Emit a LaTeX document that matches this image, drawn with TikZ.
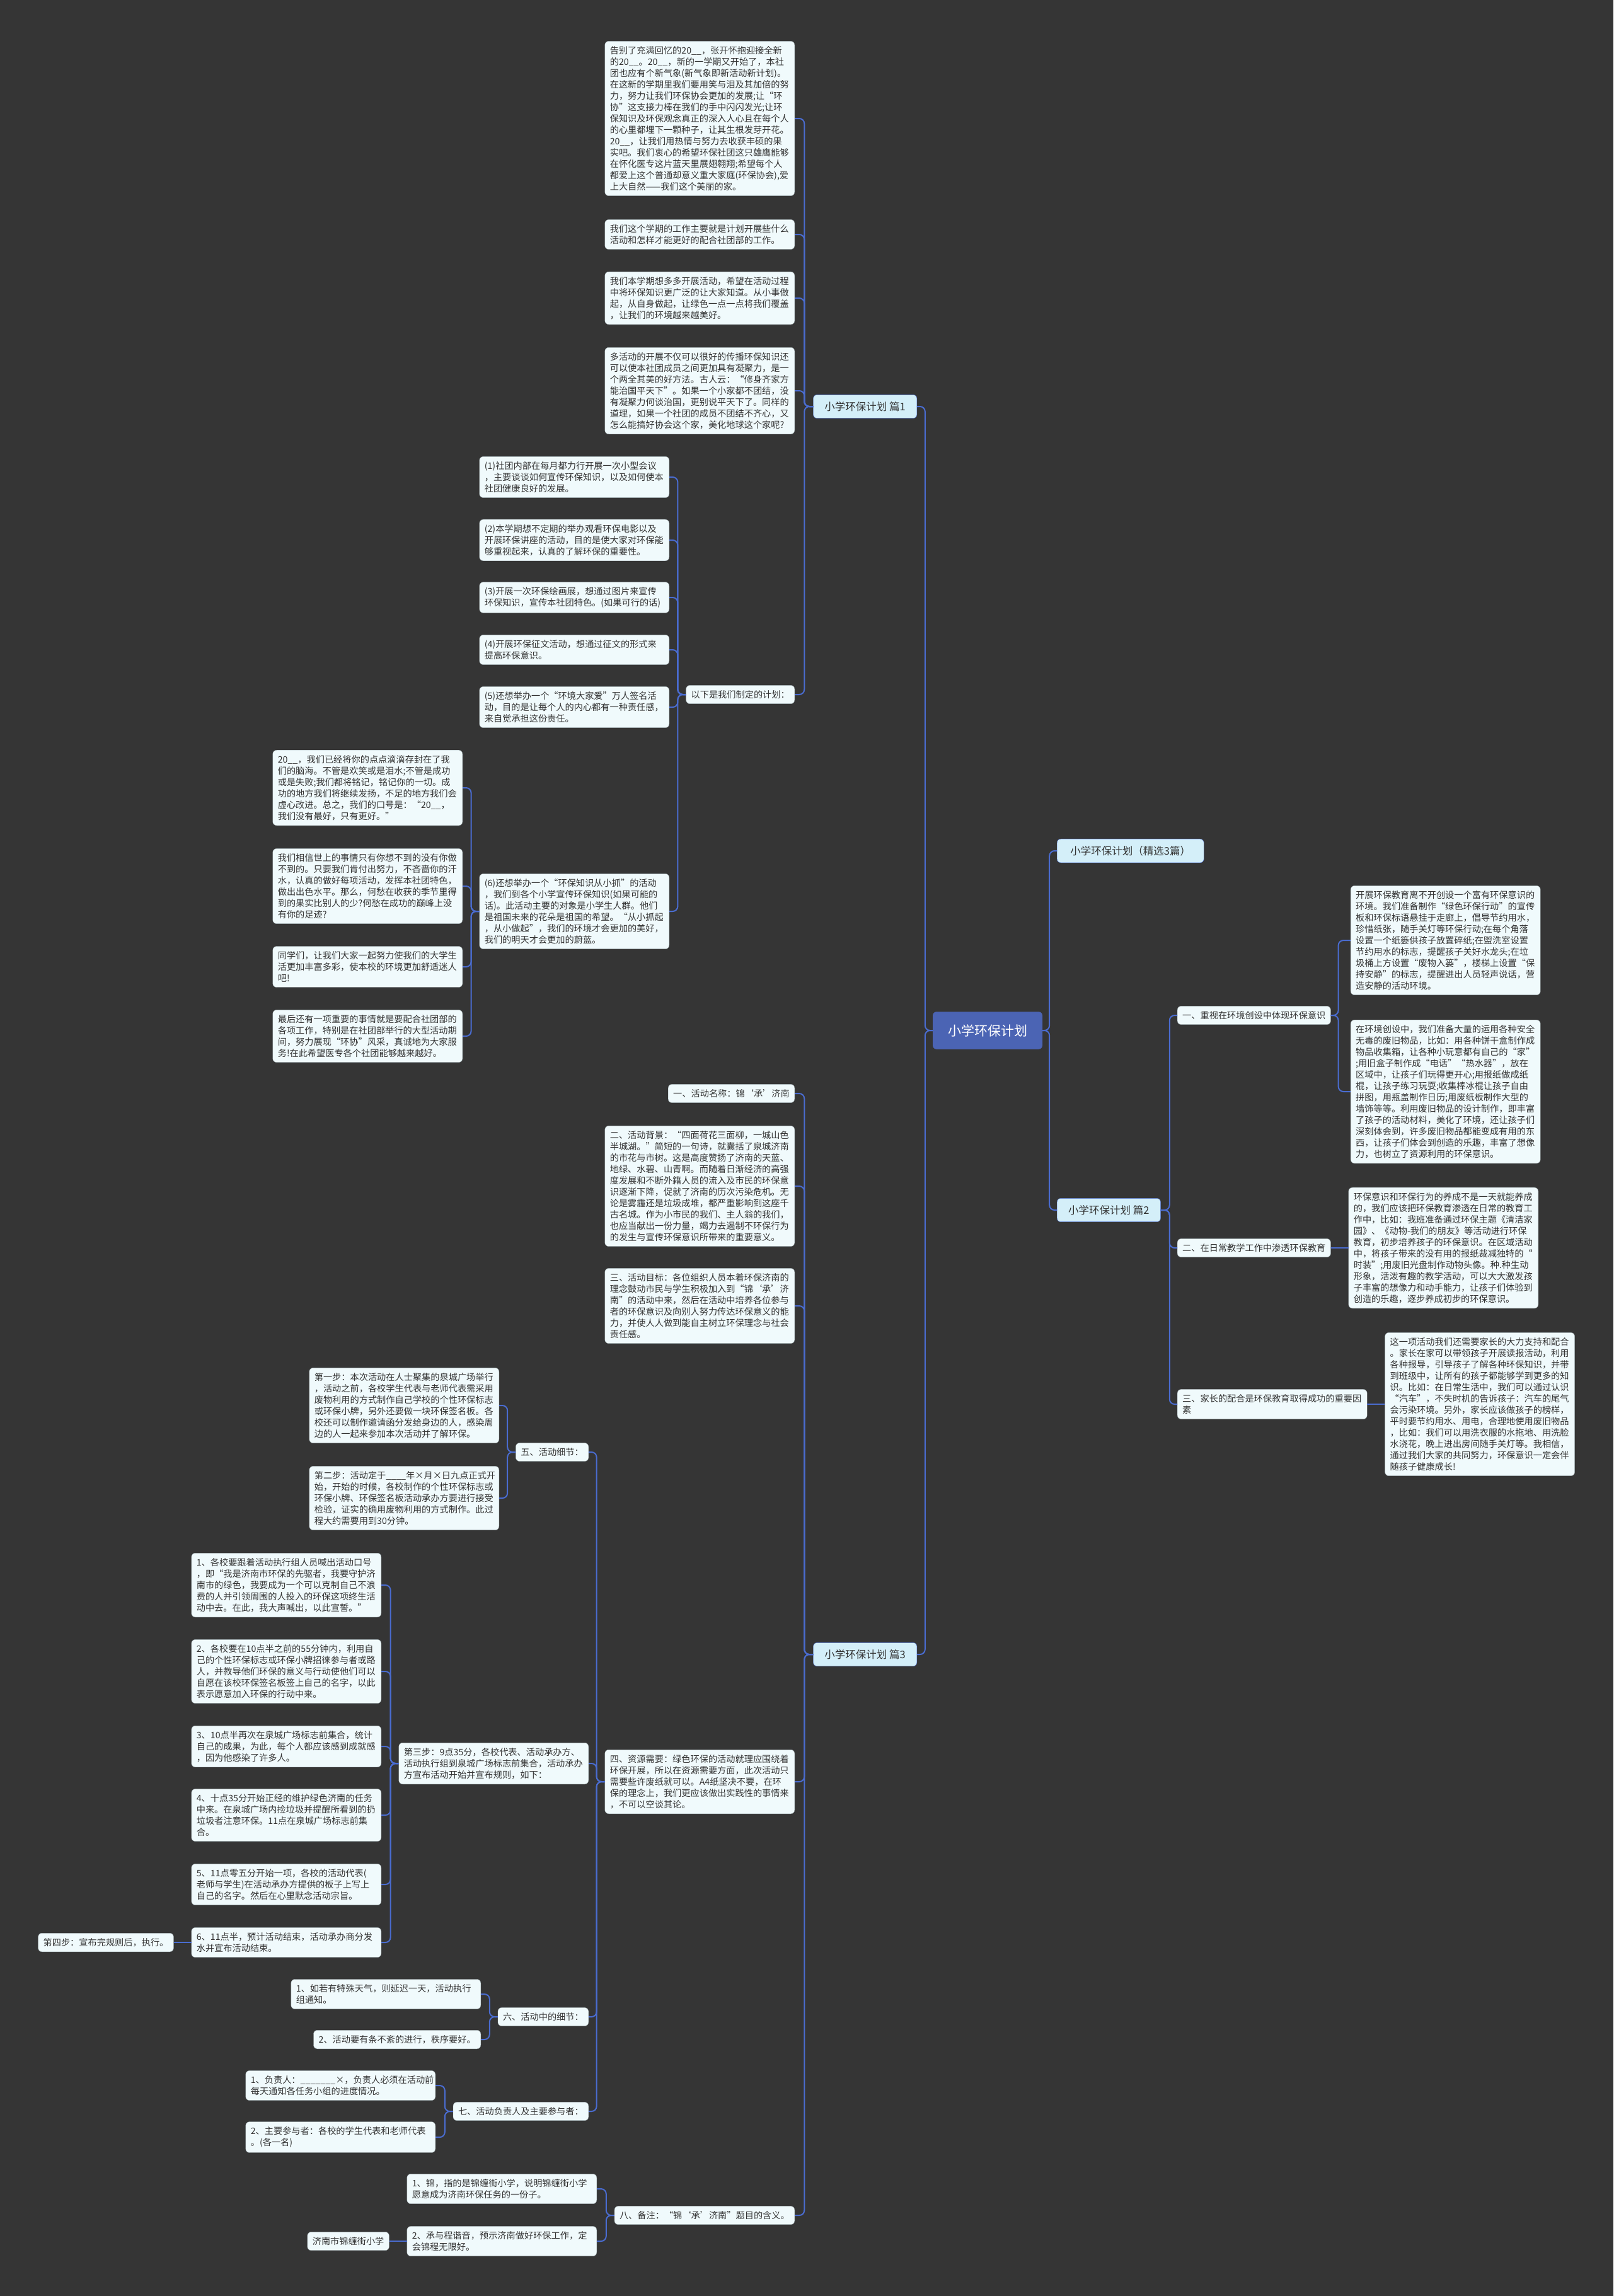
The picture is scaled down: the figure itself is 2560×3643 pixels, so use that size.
\documentclass[tikz,border=0pt]{standalone}
\usepackage{fontspec}
\setmainfont{Noto Sans CJK SC}
\usepackage{xcolor}
\usepackage{tikz}
\usetikzlibrary{positioning}
\definecolor{bgdark}{HTML}{353535}
\definecolor{linkblue}{HTML}{4A6CD0}
\definecolor{boxfill}{HTML}{F0FAFC}
\definecolor{boxline}{HTML}{9AA6AA}
\definecolor{rootblue}{HTML}{4B64B4}
\definecolor{subfill}{HTML}{D4EFF9}
\definecolor{inkgray}{HTML}{333333}

\begin{document}
\begin{tikzpicture}[x=1pt,y=-1pt,
  lbl/.style={draw=boxline,fill=boxfill,rounded corners=6pt,text=inkgray,font=\fontsize{14.2}{18}\selectfont,align=left,inner xsep=8pt,inner ysep=8pt},
  txt/.style={lbl,text width=285pt},
  sub/.style={draw=linkblue,fill=subfill,rounded corners=6pt,text=inkgray,font=\fontsize{16.5}{20}\selectfont,inner xsep=18pt,inner ysep=11pt},
  root/.style={fill=rootblue,rounded corners=6pt,text=white,font=\fontsize{21}{24}\selectfont,inner xsep=24pt,inner ysep=20pt},
  link/.style={draw=linkblue,line width=2pt,rounded corners=8pt}]
  \fill[bgdark] (0,0) rectangle (2560,3643);
  \useasboundingbox (0,0) rectangle (2560,3643);

  % centre and the four branches
  \node[root] (root) at (1567,1635) {小学环保计划};
  \node[sub,anchor=west,minimum width=233pt] (b0) at (1677,1350) {小学环保计划（精选3篇）};
  \node[sub,anchor=west] (b2) at (1677,1920) {小学环保计划 篇2};
  \node[sub,anchor=east] (b1) at (1455,645) {小学环保计划 篇1};
  \node[sub,anchor=east] (b3) at (1455,2625) {小学环保计划 篇3};

  % 篇1
  \node[txt,anchor=east] (a1) at (1261,188) {告别了充满回忆的20\_\_，张开怀抱迎接全新\\的20\_\_。20\_\_，新的一学期又开始了，本社\\团也应有个新气象(新气象即新活动新计划)。\\在这新的学期里我们要用笑与泪及其加倍的努\\力，努力让我们环保协会更加的发展;让“环\\协”这支接力棒在我们的手中闪闪发光;让环\\保知识及环保观念真正的深入人心且在每个人\\的心里都埋下一颗种子，让其生根发芽开花。\\20\_\_，让我们用热情与努力去收获丰硕的果\\实吧。我们衷心的希望环保社团这只雄鹰能够\\在怀化医专这片蓝天里展翅翱翔;希望每个人\\都爱上这个普通却意义重大家庭(环保协会),爱\\上大自然——我们这个美丽的家。};
  \node[txt,anchor=east] (a2) at (1261,372) {我们这个学期的工作主要就是计划开展些什么\\活动和怎样才能更好的配合社团部的工作。};
  \node[txt,anchor=east] (a3) at (1261,473) {我们本学期想多多开展活动，希望在活动过程\\中将环保知识更广泛的让大家知道。从小事做\\起，从自身做起，让绿色一点一点将我们覆盖\\，让我们的环境越来越美好。};
  \node[txt,anchor=east] (a4) at (1261,620) {多活动的开展不仅可以很好的传播环保知识还\\可以使本社团成员之间更加具有凝聚力，是一\\个两全其美的好方法。古人云：“修身齐家方\\能治国平天下”。如果一个小家都不团结，没\\有凝聚力何谈治国，更别说平天下了。同样的\\道理，如果一个社团的成员不团结不齐心，又\\怎么能搞好协会这个家，美化地球这个家呢?};
  \node[lbl,anchor=east] (a5) at (1261,1102) {以下是我们制定的计划：};

  \node[txt,anchor=east] (p1) at (1062,757) {(1)社团内部在每月都力行开展一次小型会议\\，主要谈谈如何宣传环保知识，以及如何使本\\社团健康良好的发展。};
  \node[txt,anchor=east] (p2) at (1062,857) {(2)本学期想不定期的举办观看环保电影以及\\开展环保讲座的活动，目的是使大家对环保能\\够重视起来，认真的了解环保的重要性。};
  \node[txt,anchor=east] (p3) at (1062,948) {(3)开展一次环保绘画展，想通过图片来宣传\\环保知识，宣传本社团特色。(如果可行的话)};
  \node[txt,anchor=east] (p4) at (1062,1031) {(4)开展环保征文活动，想通过征文的形式来\\提高环保意识。};
  \node[txt,anchor=east] (p5) at (1062,1122) {(5)还想举办一个“环境大家爱”万人签名活\\动，目的是让每个人的内心都有一种责任感，\\来自觉承担这份责任。};
  \node[txt,anchor=east] (p6) at (1062,1446) {(6)还想举办一个“环保知识从小抓”的活动\\，我们到各个小学宣传环保知识(如果可能的\\话)。此活动主要的对象是小学生人群。他们\\是祖国未来的花朵是祖国的希望。“从小抓起\\，从小做起”，我们的环境才会更加的美好，\\我们的明天才会更加的蔚蓝。};

  \node[txt,anchor=east] (l1) at (734,1250) {20\_\_，我们已经将你的点点滴滴存封在了我\\们的脑海。不管是欢笑或是泪水;不管是成功\\或是失败;我们都将铭记，铭记你的一切。成\\功的地方我们将继续发扬，不足的地方我们会\\虚心改进。总之，我们的口号是：“20\_\_，\\我们没有最好，只有更好。”};
  \node[txt,anchor=east] (l2) at (734,1406) {我们相信世上的事情只有你想不到的没有你做\\不到的。只要我们肯付出努力，不吝啬你的汗\\水，认真的做好每项活动，发挥本社团特色，\\做出出色水平。那么，何愁在收获的季节里得\\到的果实比别人的少?何愁在成功的巅峰上没\\有你的足迹?};
  \node[txt,anchor=east] (l3) at (734,1534) {同学们，让我们大家一起努力使我们的大学生\\活更加丰富多彩，使本校的环境更加舒适迷人\\吧!};
  \node[txt,anchor=east] (l4) at (734,1644) {最后还有一项重要的事情就是要配合社团部的\\各项工作，特别是在社团部举行的大型活动期\\间，努力展现“环协”风采，真诚地为大家服\\务!在此希望医专各个社团能够越来越好。};

  % 篇2
  \node[lbl,anchor=west] (r1) at (1868,1611) {一、重视在环境创设中体现环保意识};
  \node[txt,anchor=west] (r1a) at (2143,1492) {开展环保教育离不开创设一个富有环保意识的\\环境。我们准备制作“绿色环保行动”的宣传\\板和环保标语悬挂于走廊上，倡导节约用水，\\珍惜纸张，随手关灯等环保行动;在每个角落\\设置一个纸篓供孩子放置碎纸;在盥洗室设置\\节约用水的标志，提醒孩子关好水龙头;在垃\\圾桶上方设置“废物入篓”，楼梯上设置“保\\持安静”的标志，提醒进出人员轻声说话，营\\造安静的活动环境。};
  \node[txt,anchor=west] (r1b) at (2143,1732) {在环境创设中，我们准备大量的运用各种安全\\无毒的废旧物品，比如：用各种饼干盒制作成\\物品收集箱，让各种小玩意都有自己的“家”\\;用旧盒子制作成“电话”“热水器”，放在\\区域中，让孩子们玩得更开心;用报纸做成纸\\棍，让孩子练习玩耍;收集棒冰棍让孩子自由\\拼图，用瓶盖制作日历;用废纸板制作大型的\\墙饰等等。利用废旧物品的设计制作，即丰富\\了孩子的活动材料，美化了环境，还让孩子们\\深刻体会到，许多废旧物品都能变成有用的东\\西，让孩子们体会到创造的乐趣，丰富了想像\\力，也树立了资源利用的环保意识。};
  \node[lbl,anchor=west] (r2) at (1868,1980) {二、在日常教学工作中渗透环保教育};
  \node[txt,right=28pt of r2] (r2c) {环保意识和环保行为的养成不是一天就能养成\\的，我们应该把环保教育渗透在日常的教育工\\作中，比如：我班准备通过环保主题《清洁家\\园》、《动物-我们的朋友》等活动进行环保\\教育，初步培养孩子的环保意识。在区域活动\\中，将孩子带来的没有用的报纸裁减独特的“\\时装”;用废旧光盘制作动物头像。种.种生动\\形象，活泼有趣的教学活动，可以大大激发孩\\子丰富的想像力和动手能力，让孩子们体验到\\创造的乐趣，逐步养成初步的环保意识。};
  \node[txt,anchor=west] (r3) at (1868,2228) {三、家长的配合是环保教育取得成功的重要因\\素};
  \node[txt,right=28pt of r3] (r3c) {这一项活动我们还需要家长的大力支持和配合\\。家长在家可以带领孩子开展读报活动，利用\\各种报导，引导孩子了解各种环保知识，并带\\到班级中，让所有的孩子都能够学到更多的知\\识。比如：在日常生活中，我们可以通过认识\\“汽车”，不失时机的告诉孩子：汽车的尾气\\会污染环境。另外，家长应该做孩子的榜样，\\平时要节约用水、用电，合理地使用废旧物品\\，比如：我们可以用洗衣服的水拖地、用洗脸\\水浇花，晚上进出房间随手关灯等。我相信，\\通过我们大家的共同努力，环保意识一定会伴\\随孩子健康成长!};

  % 篇3
  \node[lbl,anchor=east] (s1) at (1261,1735) {一、活动名称：锦‘承’济南};
  \node[txt,anchor=east] (s2) at (1261,1882) {二、活动背景：“四面荷花三面柳，一城山色\\半城湖。”简短的一句诗，就囊括了泉城济南\\的市花与市树。这是高度赞扬了济南的天蓝、\\地绿、水碧、山青啊。而随着日渐经济的高强\\度发展和不断外籍人员的流入及市民的环保意\\识逐渐下降，促就了济南的历次污染危机。无\\论是雾霾还是垃圾成堆，都严重影响到这座千\\古名城。作为小市民的我们、主人翁的我们，\\也应当献出一份力量，竭力去遏制不环保行为\\的发生与宣传环保意识所带来的重要意义。};
  \node[txt,anchor=east] (s3) at (1261,2072) {三、活动目标：各位组织人员本着环保济南的\\理念鼓动市民与学生积极加入到“锦‘承’济\\南”的活动中来，然后在活动中培养各位参与\\者的环保意识及向别人努力传达环保意义的能\\力，并使人人做到能自主树立环保理念与社会\\责任感。};
  \node[txt,anchor=east] (s4) at (1261,2827) {四、资源需要：绿色环保的活动就理应围绕着\\环保开展，所以在资源需要方面，此次活动只\\需要些许废纸就可以。A4纸坚决不要，在环\\保的理念上，我们更应该做出实践性的事情来\\，不可以空谈其论。};
  \node[lbl,anchor=east] (s8) at (1261,3515) {八、备注：“锦‘承’济南”题目的含义。};

  \node[lbl,anchor=east] (s5) at (934,2304) {五、活动细节：};
  \node[txt,anchor=east] (st3) at (934,2798) {第三步：9点35分，各校代表、活动承办方、\\活动执行组到泉城广场标志前集合，活动承办\\方宣布活动开始并宣布规则，如下：};
  \node[lbl,anchor=east] (s6) at (934,3200) {六、活动中的细节：};
  \node[lbl,anchor=east] (s7) at (934,3350) {七、活动负责人及主要参与者：};

  \node[txt,anchor=east] (st1) at (792,2230) {第一步：本次活动在人士聚集的泉城广场举行\\，活动之前，各校学生代表与老师代表需采用\\废物利用的方式制作自己学校的个性环保标志\\或环保小牌，另外还要做一块环保签名板。各\\校还可以制作邀请函分发给身边的人，感染周\\边的人一起来参加本次活动并了解环保。};
  \node[txt,anchor=east] (st2) at (792,2377) {第二步：活动定于\_\_\_\_年×月×日九点正式开\\始，开始的时候，各校制作的个性环保标志或\\环保小牌、环保签名板活动承办方要进行接受\\检验，证实的确用废物利用的方式制作。此过\\程大约需要用到30分钟。};

  \node[txt,anchor=east] (i1) at (605,2515) {1、各校要跟着活动执行组人员喊出活动口号\\，即“我是济南市环保的先驱者，我要守护济\\南市的绿色，我要成为一个可以克制自己不浪\\费的人并引领周围的人投入的环保这项终生活\\动中去。在此，我大声喊出，以此宣誓。”};
  \node[txt,anchor=east] (i2) at (605,2652) {2、各校要在10点半之前的55分钟内，利用自\\己的个性环保标志或环保小牌招徕参与者或路\\人，并教导他们环保的意义与行动使他们可以\\自愿在该校环保签名板签上自己的名字，以此\\表示愿意加入环保的行动中来。};
  \node[txt,anchor=east] (i3) at (605,2771) {3、10点半再次在泉城广场标志前集合，统计\\自己的成果，为此，每个人都应该感到成就感\\，因为他感染了许多人。};
  \node[txt,anchor=east] (i4) at (605,2880) {4、十点35分开始正经的维护绿色济南的任务\\中来。在泉城广场内捡垃圾并提醒所看到的扔\\垃圾者注意环保。11点在泉城广场标志前集\\合。};
  \node[txt,anchor=east] (i5) at (605,2990) {5、11点零五分开始一项，各校的活动代表(\\老师与学生)在活动承办方提供的板子上写上\\自己的名字。然后在心里默念活动宗旨。};
  \node[txt,anchor=east] (i6) at (605,3082) {6、11点半，预计活动结束，活动承办商分发\\水并宣布活动结束。};
  \node[lbl,left=28pt of i6] (d4) {第四步：宣布完规则后，执行。};

  \node[txt,anchor=east] (s6a) at (763,3164) {1、如若有特殊天气，则延迟一天，活动执行\\组通知。};
  \node[lbl,anchor=east] (s6b) at (763,3236) {2、活动要有条不紊的进行，秩序要好。};
  \node[txt,anchor=east] (s7a) at (691,3309) {1、负责人：\_\_\_\_\_\_\_×，负责人必须在活动前\\每天通知各任务小组的进度情况。};
  \node[txt,anchor=east] (s7b) at (691,3391) {2、主要参与者：各校的学生代表和老师代表\\。(各一名)};
  \node[txt,anchor=east] (s8a) at (947,3473) {1、锦，指的是锦缠街小学，说明锦缠街小学\\愿意成为济南环保任务的一份子。};
  \node[txt,anchor=east] (s8b) at (947,3556) {2、承与程谐音，预示济南做好环保工作，定\\会锦程无限好。};
  \node[lbl,left=28pt of s8b] (school) {济南市锦缠街小学};

  % connectors
  \foreach \c in {b1,b3} \draw[link] (root.west) -- ++(-12,0) |- (\c.east);
  \foreach \c in {b0,b2} \draw[link] (root.east) -- ++(11,0) |- (\c.west);
  \foreach \c in {a1,a2,a3,a4,a5} \draw[link] (b1.west) -- ++(-14,0) |- (\c.east);
  \foreach \c in {p1,p2,p3,p4,p5,p6} \draw[link] (a5.west) -- ++(-13,0) |- (\c.east);
  \foreach \c in {l1,l2,l3,l4} \draw[link] (p6.west) -- ++(-13,0) |- (\c.east);
  \foreach \c in {r1,r2,r3} \draw[link] (b2.east) -- ++(14,0) |- (\c.west);
  \foreach \c in {r1a,r1b} \draw[link] (r1.east) -- ++(12,0) |- (\c.west);
  \draw[link] (r2) -- (r2c);
  \draw[link] (r3) -- (r3c);
  \foreach \c in {s1,s2,s3,s4,s8} \draw[link] (b3.west) -- ++(-14,0) |- (\c.east);
  \foreach \c in {s5,st3,s6,s7} \draw[link] (s4.west) -- ++(-13,0) |- (\c.east);
  \foreach \c in {st1,st2} \draw[link] (s5.west) -- ++(-13,0) |- (\c.east);
  \foreach \c in {i1,i2,i3,i4,i5,i6} \draw[link] (st3.west) -- ++(-13,0) |- (\c.east);
  \draw[link] (i6) -- (d4);
  \foreach \c in {s6a,s6b} \draw[link] (s6.west) -- ++(-13,0) |- (\c.east);
  \foreach \c in {s7a,s7b} \draw[link] (s7.west) -- ++(-13,0) |- (\c.east);
  \foreach \c in {s8a,s8b} \draw[link] (s8.west) -- ++(-13,0) |- (\c.east);
  \draw[link] (s8b) -- (school);
\end{tikzpicture}
\end{document}
